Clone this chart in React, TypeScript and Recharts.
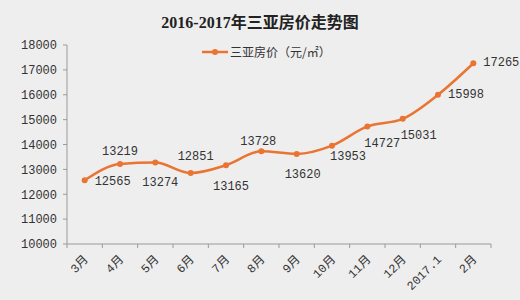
import React from 'react';
import { LineChart, Line, XAxis, YAxis, Legend, LabelList } from 'recharts';

// Sanya average home price by month, 2016-03 .. 2017-02
const months = ['3月', '4月', '5月', '6月', '7月', '8月', '9月', '10月', '11月', '12月', '2017.1', '2月'];
const prices = [12565, 13219, 13274, 12851, 13165, 13728, 13620, 13953, 14727, 15031, 15998, 17265];
const yTicks = [10000, 11000, 12000, 13000, 14000, 15000, 16000, 17000, 18000];
const seriesName = '三亚房价（元/㎡）';
const chartTitle = '2016-2017年三亚房价走势图';

// Where each value label sits relative to its point: [dx, dy]
const labelOffsets: [number, number][] = [
  [28, 2], [0, -12], [5, 20], [5, -16], [5, 22], [-3, -9],
  [6, 21], [16, 11], [15, 18], [16, 17], [28, 0], [28, 0],
];

const W = 520;
const H = 300;
const MARGIN = { top: 45, right: 29, bottom: 0, left: 0 };
const Y_AXIS_W = 67;
const X_AXIS_H = 56;
const PLOT_W = W - MARGIN.left - MARGIN.right - Y_AXIS_W;
const BAND = PLOT_W / months.length;

const LINE_COLOR = '#EA7431';
const AXIS_COLOR = '#9a9a9a';
const TEXT_COLOR = '#333';
const NUM_FONT = '"Liberation Mono", "Noto Sans CJK SC", monospace';

const data = months.map((m, i) => ({ month: m, price: prices[i] }));

const MonthTick = (props: any) => {
  const { x, y, payload, index } = props;
  const left = x - BAND / 2;
  const isLast = index === months.length - 1;
  const ax = x + 2;
  const ay = y + 6;
  return (
    <g>
      <line x1={left} y1={y - 8} x2={left} y2={y - 4} stroke={AXIS_COLOR} />
      {isLast && <line x1={x + BAND / 2} y1={y - 8} x2={x + BAND / 2} y2={y - 4} stroke={AXIS_COLOR} />}
      <text
        x={ax}
        y={ay}
        transform={`rotate(-45, ${ax}, ${ay})`}
        textAnchor="end"
        dominantBaseline="central"
        fontSize={12}
        fontFamily={NUM_FONT}
        fill={TEXT_COLOR}
      >
        {payload.value}
      </text>
    </g>
  );
};

const ValueLabel = (props: any) => {
  const { x, y, value, index } = props;
  const [dx, dy] = labelOffsets[index] || [0, -12];
  return (
    <text
      x={x + dx}
      y={y + dy}
      textAnchor="middle"
      dominantBaseline="central"
      fontSize={12}
      fontFamily={NUM_FONT}
      fill={TEXT_COLOR}
    >
      {value}
    </text>
  );
};

const LegendContent = () => (
  <div style={{ display: 'flex', alignItems: 'center', fontSize: 12, color: TEXT_COLOR, fontFamily: '"Noto Sans CJK SC", sans-serif' }}>
    <svg width={26} height={10} style={{ marginRight: 2 }}>
      <line x1={0} y1={5} x2={26} y2={5} stroke={LINE_COLOR} strokeWidth={2.5} />
      <circle cx={13} cy={5} r={3} fill={LINE_COLOR} />
    </svg>
    <span>{seriesName}</span>
  </div>
);

export default function App() {
  return (
    <div style={{ position: 'absolute', left: 0, top: 0, width: W, height: H, background: '#eeeeee' }}>
      <div
        style={{
          position: 'absolute',
          top: 9,
          left: 0,
          width: W,
          textAlign: 'center',
          fontSize: 16,
          fontWeight: 'bold',
          color: '#222',
          fontFamily: '"Liberation Serif", "Noto Sans CJK SC", serif',
        }}
      >
        {chartTitle}
      </div>
      <LineChart width={W} height={H} data={data} margin={MARGIN}>
        <XAxis
          dataKey="month"
          height={X_AXIS_H}
          interval={0}
          padding={{ left: BAND / 2, right: BAND / 2 }}
          axisLine={{ stroke: AXIS_COLOR }}
          tickLine={false}
          tick={<MonthTick />}
        />
        <YAxis
          width={Y_AXIS_W}
          domain={[10000, 18000]}
          ticks={yTicks}
          interval={0}
          axisLine={{ stroke: AXIS_COLOR }}
          tickLine={{ stroke: AXIS_COLOR }}
          tickSize={4}
          tickMargin={6}
          tick={{ fontSize: 12, fontFamily: NUM_FONT, fill: TEXT_COLOR }}
        />
        <Legend
          layout="horizontal"
          verticalAlign="middle"
          align="center"
          content={<LegendContent />}
          wrapperStyle={{ position: 'absolute', top: 43, left: 202, width: 'auto' }}
        />
        <Line
          type="monotone"
          dataKey="price"
          name={seriesName}
          stroke={LINE_COLOR}
          strokeWidth={2.5}
          dot={{ r: 3, fill: LINE_COLOR, stroke: LINE_COLOR, strokeWidth: 0 }}
          activeDot={false}
          isAnimationActive={false}
        >
          <LabelList dataKey="price" content={<ValueLabel />} />
        </Line>
      </LineChart>
    </div>
  );
}
